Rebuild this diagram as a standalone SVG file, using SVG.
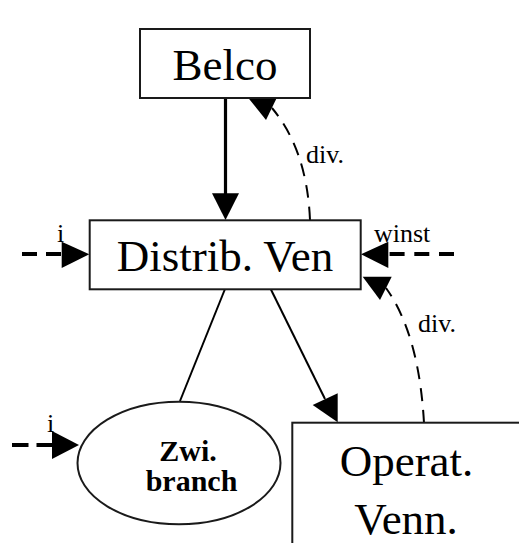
<svg xmlns="http://www.w3.org/2000/svg" width="519" height="543" viewBox="0 0 519 543">
<style>
.box{fill:#fff;stroke:#1a1a1a;stroke-width:2}
.big{font-family:"Liberation Serif","Times New Roman",serif;font-size:45px;fill:#000;text-anchor:middle}
.lbl{font-family:"Liberation Serif","Times New Roman",serif;font-size:26px;fill:#000}
.bold{font-family:"Liberation Serif","Times New Roman",serif;font-size:30px;font-weight:bold;fill:#000;text-anchor:middle}
.solid{fill:none;stroke:#000;stroke-width:2}
.thick{fill:none;stroke:#000;stroke-width:3.2}
.dash{fill:none;stroke:#000;stroke-width:4}
.curve{fill:none;stroke:#000;stroke-width:2;stroke-dasharray:13 9}
.head{fill:#000;stroke:none}
</style>
<rect width="519" height="543" fill="#fff"/>
<g id="connectors">
  <line class="thick" x1="225.5" y1="98" x2="225.5" y2="195"/>
  <polygon class="head" points="212,193.3 239,193.3 225.5,220"/>
  <line class="solid" x1="225" y1="289" x2="180" y2="401"/>
  <line class="solid" x1="270.7" y1="289" x2="325" y2="399"/>
  <polygon class="head" points="312.7,405 337.7,393.3 337.7,422.3"/>
  <path class="curve" d="M310,220 Q307,150 272,108"/>
  <polygon class="head" points="248.3,98 276.7,98 266,120"/>
  <path class="curve" d="M424,423 Q419,334 386,288"/>
  <polygon class="head" points="362.7,276.7 391.7,276.7 380,300"/>
  <path class="dash" d="M22,254 L62,254" stroke-dasharray="15 9"/>
  <polygon class="head" points="61.7,241.7 89.3,254.3 61.7,268"/>
  <path class="dash" d="M454,254 L388,254" stroke-dasharray="15 9.7"/>
  <polygon class="head" points="388.3,241.7 361,254.3 388.3,268"/>
  <path class="dash" d="M12,445 L53,445" stroke-dasharray="16.5 8"/>
  <polygon class="head" points="52,431 79,445 52,459"/>
  <text class="lbl" x="57" y="242">i</text>
  <text class="lbl" x="374" y="242">winst</text>
  <text class="lbl" x="306" y="163">div.</text>
  <text class="lbl" x="418" y="332">div.</text>
  <text class="lbl" x="47" y="432">i</text>
</g>
<g id="belco">
  <rect class="box" x="140" y="29" width="170" height="69"/>
  <text class="big" x="225" y="80">Belco</text>
</g>
<g id="distrib">
  <rect class="box" x="89.7" y="220.3" width="271" height="69"/>
  <text class="big" x="225" y="271">Distrib. Ven</text>
</g>
<g id="zwi">
  <ellipse class="box" cx="179" cy="463" rx="101.5" ry="61.3"/>
  <text class="bold" x="188" y="460.7">Zwi.</text>
  <text class="bold" x="191.5" y="491">branch</text>
</g>
<g id="operat">
  <rect class="box" x="292.3" y="422.7" width="300" height="200"/>
  <text class="big" x="406.5" y="475.7">Operat.</text>
  <text class="big" x="406" y="534.3">Venn.</text>
</g>
</svg>
